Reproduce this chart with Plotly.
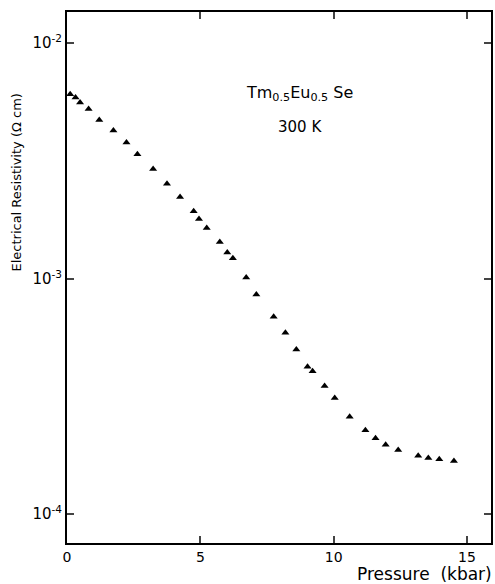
import plotly.graph_objects as go

pressure = [0.12, 0.32, 0.49, 0.81, 1.21, 1.74, 2.23, 2.64, 3.23, 3.75, 4.24, 4.75, 4.95, 5.24,
            5.73, 6.01, 6.22, 6.72, 7.10, 7.75, 8.19, 8.60, 9.02, 9.21, 9.66, 10.04, 10.60,
            11.19, 11.57, 11.95, 12.42, 13.17, 13.55, 13.96, 14.51]
resistivity = [6.07e-3, 5.88e-3, 5.60e-3, 5.25e-3, 4.71e-3, 4.25e-3, 3.78e-3, 3.37e-3, 2.92e-3,
               2.53e-3, 2.22e-3, 1.93e-3, 1.79e-3, 1.64e-3, 1.43e-3, 1.29e-3, 1.22e-3, 1.01e-3,
               8.55e-4, 6.89e-4, 5.89e-4, 5.00e-4, 4.22e-4, 4.04e-4, 3.50e-4, 3.11e-4, 2.59e-4,
               2.27e-4, 2.10e-4, 1.97e-4, 1.87e-4, 1.77e-4, 1.73e-4, 1.71e-4, 1.68e-4]

x_ticks = [0, 5, 10, 15]
y_ticks = [1e-4, 1e-3, 1e-2]
y_ticktext = ["10<sup>-4</sup>", "10<sup>-3</sup>", "10<sup>-2</sup>"]

FONT = "DejaVu Sans"

fig = go.Figure()
fig.add_trace(go.Scatter(
    x=pressure, y=resistivity, mode="markers",
    marker=dict(symbol="triangle-up", size=7, color="black"),
    showlegend=False,
))

fig.update_layout(
    width=495, height=584,
    margin=dict(l=67, r=2, t=12, b=41),
    paper_bgcolor="white", plot_bgcolor="white",
    font=dict(family=FONT, color="black", size=13),
    xaxis=dict(
        range=[0, 15.9], tickvals=x_ticks, ticks="inside", ticklen=7, tickwidth=1.5,
        showline=True, linewidth=2, linecolor="black", mirror="ticks",
        showgrid=False, zeroline=False, tickfont=dict(size=14),
    ),
    yaxis=dict(
        type="log", range=[-4.123, -1.868], tickvals=y_ticks, ticktext=y_ticktext,
        ticks="inside", ticklen=7, tickwidth=1.5,
        showline=True, linewidth=2, linecolor="black", mirror="ticks",
        showgrid=False, zeroline=False, tickfont=dict(size=15),
    ),
    annotations=[
        dict(text="Electrical Resistivity (\u03a9 cm)", xref="paper", yref="paper",
             x=-0.119, xanchor="center", y=0.678, yanchor="middle",
             textangle=-90, showarrow=False, font=dict(size=13)),
        dict(text="Pressure  (kbar)", xref="paper", yref="paper",
             x=1.0, xanchor="right", xshift=3, y=-0.058, yanchor="middle", showarrow=False,
             font=dict(size=17)),
        dict(text="Tm<sub>0.5</sub>Eu<sub>0.5</sub> Se", xref="x", yref="y",
             x=8.7, y=-2.212, showarrow=False, font=dict(size=16)),
        dict(text="300 K", xref="x", yref="y",
             x=8.75, y=-2.357, showarrow=False, font=dict(size=15)),
    ],
)

fig.write_html("out.html")
